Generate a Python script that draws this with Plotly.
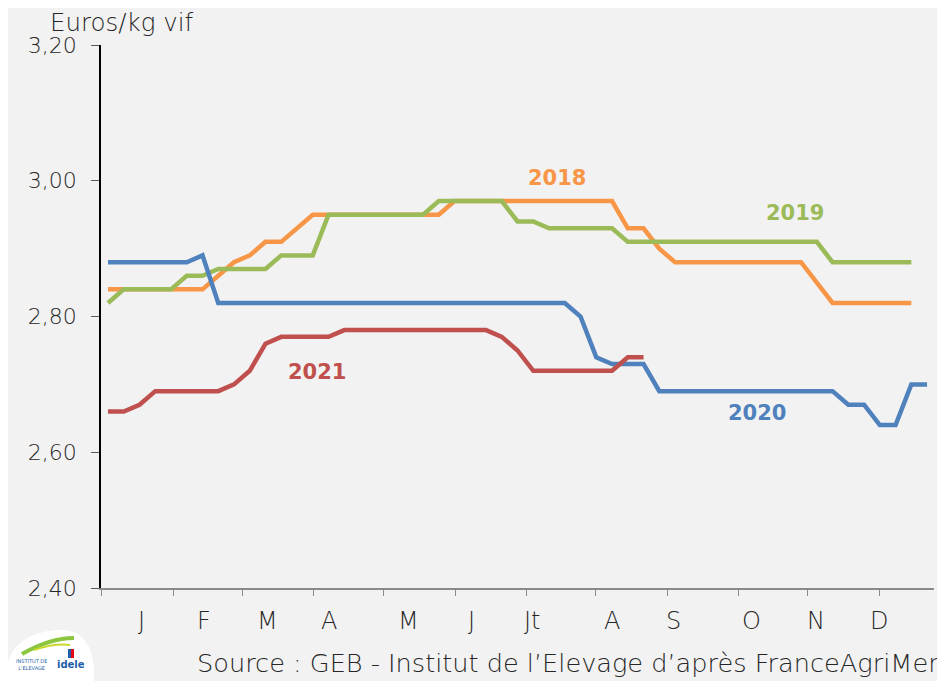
import plotly.graph_objects as go

# ---------------- data ----------------
series_names = ["2018", "2019", "2020", "2021"]
series_colors = ["#F79646", "#9BBB59", "#4F81BD", "#C0504D"]

prices_2018 = [2.84, 2.84, 2.84, 2.84, 2.84, 2.84, 2.84, 2.86, 2.88, 2.89,
               2.91, 2.91, 2.93, 2.95, 2.95, 2.95, 2.95, 2.95, 2.95, 2.95,
               2.95, 2.95, 2.97, 2.97, 2.97, 2.97, 2.97, 2.97, 2.97, 2.97,
               2.97, 2.97, 2.97, 2.93, 2.93, 2.90, 2.88, 2.88, 2.88, 2.88,
               2.88, 2.88, 2.88, 2.88, 2.88, 2.85, 2.82, 2.82, 2.82, 2.82,
               2.82, 2.82]
prices_2019 = [2.82, 2.84, 2.84, 2.84, 2.84, 2.86, 2.86, 2.87, 2.87, 2.87,
               2.87, 2.89, 2.89, 2.89, 2.95, 2.95, 2.95, 2.95, 2.95, 2.95,
               2.95, 2.97, 2.97, 2.97, 2.97, 2.97, 2.94, 2.94, 2.93, 2.93,
               2.93, 2.93, 2.93, 2.91, 2.91, 2.91, 2.91, 2.91, 2.91, 2.91,
               2.91, 2.91, 2.91, 2.91, 2.91, 2.91, 2.88, 2.88, 2.88, 2.88,
               2.88, 2.88]
prices_2020 = [2.88, 2.88, 2.88, 2.88, 2.88, 2.88, 2.89, 2.82, 2.82, 2.82,
               2.82, 2.82, 2.82, 2.82, 2.82, 2.82, 2.82, 2.82, 2.82, 2.82,
               2.82, 2.82, 2.82, 2.82, 2.82, 2.82, 2.82, 2.82, 2.82, 2.82,
               2.80, 2.74, 2.73, 2.73, 2.73, 2.69, 2.69, 2.69, 2.69, 2.69,
               2.69, 2.69, 2.69, 2.69, 2.69, 2.69, 2.69, 2.67, 2.67, 2.64,
               2.64, 2.70, 2.70]
prices_2021 = [2.66, 2.66, 2.67, 2.69, 2.69, 2.69, 2.69, 2.69, 2.70, 2.72,
               2.76, 2.77, 2.77, 2.77, 2.77, 2.78, 2.78, 2.78, 2.78, 2.78,
               2.78, 2.78, 2.78, 2.78, 2.78, 2.77, 2.75, 2.72, 2.72, 2.72,
               2.72, 2.72, 2.72, 2.74, 2.74]
series_values = [prices_2018, prices_2019, prices_2020, prices_2021]

# series label placement (week, price)
label_weeks = [29.5, 44.6, 42.2, 14.3]
label_prices = [3.004, 2.952, 2.658, 2.718]

month_labels = ["J", "F", "M", "A", "M", "J", "Jt", "A", "S", "O", "N", "D"]
month_label_weeks = [3.10, 7.10, 11.1, 15.03, 20.08, 24.05, 27.92, 33.0,
                     36.87, 41.83, 45.95, 49.95]
month_tick_weeks = [0.556, 5.13, 9.57, 14.02, 18.52, 23.03, 27.54, 31.98,
                    36.49, 41.0, 45.44, 49.95]

y_ticks = [2.40, 2.60, 2.80, 3.00, 3.20]

FONT = "DejaVu Sans"
BG = "#f2f2f2"
TXT = "#262626"

# page offset (default body margin of the html page)
OFF = 8

fig = go.Figure()
for name, vals, col in zip(series_names, series_values, series_colors):
    fig.add_trace(go.Scatter(
        x=list(range(1, len(vals) + 1)), y=vals, mode="lines", name=name,
        line=dict(color=col, width=4.5), showlegend=False, hoverinfo="skip"))

# target plot area in screen pixels
L, R, T, B = 101, 934, 45, 588
W, H = 945 - OFF, 681 - OFF


def px_x(p):
    return (p - L) / (R - L)


def px_y(p):
    return (B - p) / (B - T)


annotations = []
for name, wk, pr, col in zip(series_names, label_weeks, label_prices, series_colors):
    annotations.append(dict(x=wk, y=pr, xref="x", yref="y", text="<b>%s</b>" % name,
                            showarrow=False, font=dict(family=FONT, size=21, color=col),
                            xanchor="center", yanchor="middle"))

for lab, wk in zip(month_labels, month_label_weeks):
    annotations.append(dict(x=wk, y=px_y(621), xref="x", yref="paper", text=lab,
                            showarrow=False,
                            font=dict(family=FONT, size=24, color=TXT, weight=300),
                            xanchor="center", yanchor="middle"))

annotations.append(dict(x=px_x(48), y=px_y(22), xref="paper", yref="paper",
                        text="Euros/kg vif", showarrow=False,
                        font=dict(family=FONT, size=24.5, color=TXT, weight=300),
                        xanchor="left", yanchor="middle"))
annotations.append(dict(x=px_x(941), y=px_y(663), xref="paper", yref="paper",
                        text="Source : GEB - Institut de l\u2019Elevage d\u2019apr\u00e8s FranceAgriMer",
                        showarrow=False,
                        font=dict(family=FONT, size=25.6, color=TXT, weight=300),
                        xanchor="right", yanchor="middle"))
# logo text
annotations.append(dict(x=px_x(55), y=px_y(664), xref="paper", yref="paper",
                        text="<b>idele</b>", showarrow=False,
                        font=dict(family=FONT, size=10, color="#1f5fa8"),
                        xanchor="left", yanchor="middle"))
annotations.append(dict(x=px_x(14), y=px_y(664), xref="paper", yref="paper",
                        text="INSTITUT DE<br>L'ELEVAGE", showarrow=False,
                        font=dict(family=FONT, size=5, color="#1f5fa8"),
                        xanchor="left", yanchor="middle"))

shapes = [
    dict(type="path", xref="paper", yref="paper", layer="below",
         path="M %.5f,%.5f Q %.5f,%.5f %.5f,%.5f Q %.5f,%.5f %.5f,%.5f L %.5f,%.5f Z" % (
             px_x(6), px_y(681), px_x(4), px_y(636), px_x(55), px_y(630),
             px_x(96), px_y(626), px_x(94), px_y(681), px_x(6), px_y(681)),
         fillcolor="white", line=dict(width=0)),
    dict(type="path", xref="paper", yref="paper",
         path="M %.5f,%.5f Q %.5f,%.5f %.5f,%.5f" % (
             px_x(22), px_y(654), px_x(50), px_y(638), px_x(74), px_y(638)),
         line=dict(color="#8cc63f", width=4)),
    dict(type="path", xref="paper", yref="paper",
         path="M %.5f,%.5f Q %.5f,%.5f %.5f,%.5f" % (
             px_x(34), px_y(650), px_x(55), px_y(643), px_x(70), px_y(645)),
         line=dict(color="#c7d92b", width=2)),
    dict(type="rect", xref="paper", yref="paper",
         x0=px_x(68), x1=px_x(71), y0=px_y(658), y1=px_y(649),
         fillcolor="#1f5fa8", line=dict(width=0)),
    dict(type="rect", xref="paper", yref="paper",
         x0=px_x(71), x1=px_x(74), y0=px_y(658), y1=px_y(649),
         fillcolor="#e30613", line=dict(width=0)),
]

fig.update_layout(
    width=W, height=H,
    margin=dict(l=L - OFF, r=W + OFF - R, t=T - OFF, b=H + OFF - B, pad=0),
    paper_bgcolor=BG, plot_bgcolor=BG,
    separators=", ",
    font=dict(family=FONT, size=22, color=TXT),
    annotations=annotations,
    shapes=shapes,
    xaxis=dict(range=[0.556, 53.44], showgrid=False, zeroline=False,
               showline=True, linecolor="#8a8a8a", linewidth=2,
               ticks="outside", ticklen=6, tickwidth=1, tickcolor="#8a8a8a",
               tickvals=month_tick_weeks, showticklabels=False),
    yaxis=dict(range=[2.40, 3.20], showgrid=False, zeroline=False,
               showline=True, linecolor="#000000", linewidth=1.5,
               ticks="outside", ticklen=8, tickwidth=1, tickcolor="#595959",
               tickvals=y_ticks, tickformat=".2f",
               tickfont=dict(family=FONT, size=22, color=TXT, weight=300),
               ticklabelstandoff=10),
)

fig.write_html("out.html")
